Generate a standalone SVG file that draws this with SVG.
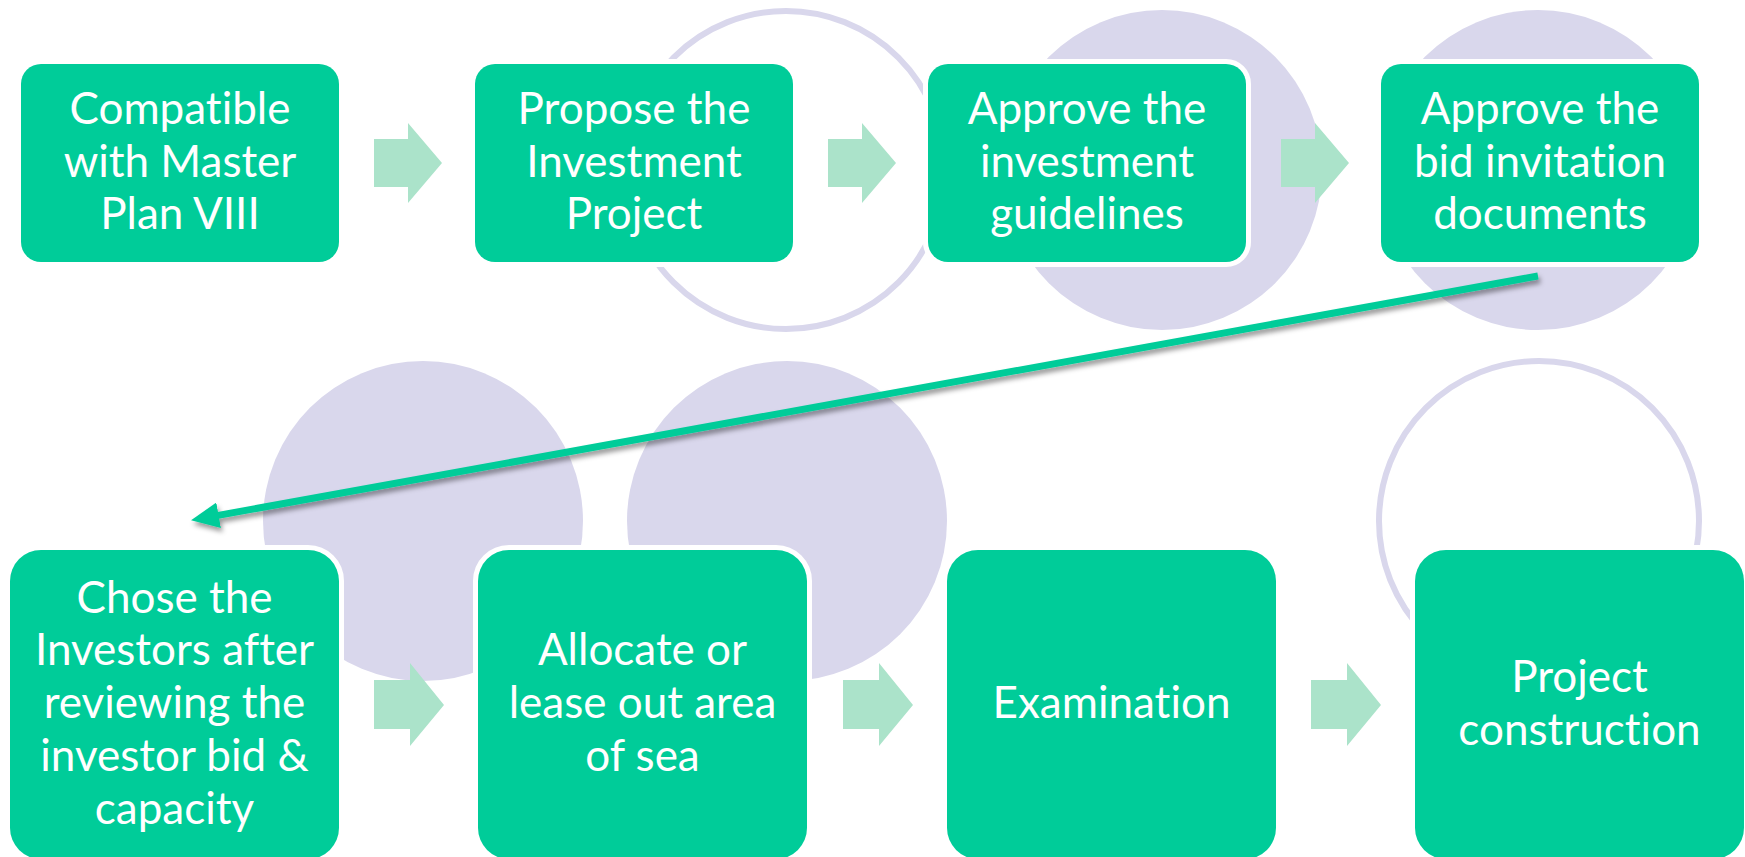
<svg xmlns="http://www.w3.org/2000/svg" width="1745" height="857" viewBox="0 0 1745 857">
  <style>
    .box { fill: #00CC99; stroke: #FFFFFF; stroke-width: 10; paint-order: stroke; }
    .lbl { font-family: Lato, "Open Sans", "Liberation Sans", sans-serif; font-size: 44px; fill: #FFFFFF; text-anchor: middle; font-variant-ligatures: none; font-feature-settings: "liga" 0, "clig" 0; }
    .disc { fill: #D9D7EC; }
    .ring { fill: none; stroke: #D9D7EC; stroke-width: 6; }
    .step { fill: #ABE3CA; }
    .link { fill: none; stroke: #00CC99; stroke-width: 7; }
  </style>
  <defs>
    <!-- small block arrows between the steps -->
    <path id="stepTop" d="M0,16 H34 V0 L68,40 L34,80 V64 H0 Z"/>
    <path id="stepBottom" d="M0,17 H36 V0 L70,42 L36,83 V66 H0 Z"/>
    <marker id="head" markerUnits="userSpaceOnUse" markerWidth="28" markerHeight="26" refX="6" refY="13" orient="auto">
      <path d="M0,0 L28,13 L0,26 Z" fill="#00CC99"/>
    </marker>
    <filter id="shadow" x="-5%" y="-50%" width="110%" height="200%">
      <feDropShadow dx="2" dy="4" stdDeviation="2.5" flood-color="#000000" flood-opacity="0.4"/>
    </filter>
  </defs>

  <rect width="1745" height="857" fill="#FFFFFF"/>

  <!-- background circles -->
  <g id="decor">
    <circle class="ring" cx="786" cy="170" r="159"/>
    <circle class="disc" cx="1162" cy="170" r="160"/>
    <circle class="disc" cx="1538" cy="170" r="160"/>
    <circle class="disc" cx="423" cy="521" r="160"/>
    <circle class="disc" cx="787" cy="521" r="160"/>
    <circle class="ring" cx="1539" cy="521" r="160"/>
  </g>

  <!-- block arrows -->
  <g id="steps">
    <use href="#stepTop" class="step" x="374" y="123"/>
    <use href="#stepTop" class="step" x="828" y="123"/>
    <use href="#stepTop" class="step" x="1281" y="123"/>
    <use href="#stepBottom" class="step" x="374" y="663"/>
    <use href="#stepBottom" class="step" x="843" y="663"/>
    <use href="#stepBottom" class="step" x="1311" y="663"/>
  </g>

  <!-- top row -->
  <g id="node-master-plan">
    <rect class="box" x="21" y="64" width="318" height="198" rx="20"/>
    <text class="lbl"><tspan x="180" y="124">Compatible</tspan><tspan x="180" y="177">with Master</tspan><tspan x="180" y="229">Plan VIII</tspan></text>
  </g>
  <g id="node-propose">
    <rect class="box" x="475" y="64" width="318" height="198" rx="20"/>
    <text class="lbl"><tspan x="634" y="124">Propose the</tspan><tspan x="634" y="177">Investment</tspan><tspan x="634" y="229">Project</tspan></text>
  </g>
  <g id="node-guidelines">
    <rect class="box" x="928" y="64" width="318" height="198" rx="20"/>
    <text class="lbl"><tspan x="1087" y="124">Approve the</tspan><tspan x="1087" y="177">investment</tspan><tspan x="1087" y="229">guidelines</tspan></text>
  </g>
  <g id="node-bid-docs">
    <rect class="box" x="1381" y="64" width="318" height="198" rx="20"/>
    <text class="lbl"><tspan x="1540" y="124">Approve the</tspan><tspan x="1540" y="177">bid invitation</tspan><tspan x="1540" y="229">documents</tspan></text>
  </g>

  <!-- bottom row -->
  <g id="node-investors">
    <rect class="box" x="10" y="550" width="329" height="309" rx="31"/>
    <text class="lbl"><tspan x="174.5" y="612.5">Chose the</tspan><tspan x="174.5" y="665.25">Investors after</tspan><tspan x="174.5" y="718">reviewing the</tspan><tspan x="174.5" y="770.75">investor bid &amp;</tspan><tspan x="174.5" y="823.5">capacity</tspan></text>
  </g>
  <g id="node-allocate">
    <rect class="box" x="478" y="550" width="329" height="309" rx="31"/>
    <text class="lbl"><tspan x="642.5" y="665.25">Allocate or</tspan><tspan x="642.5" y="718">lease out area</tspan><tspan x="642.5" y="770.75">of sea</tspan></text>
  </g>
  <g id="node-examination">
    <rect class="box" x="947" y="550" width="329" height="309" rx="31"/>
    <text class="lbl"><tspan x="1111.5" y="718">Examination</tspan></text>
  </g>
  <g id="node-construction">
    <rect class="box" x="1415" y="550" width="329" height="309" rx="31"/>
    <text class="lbl"><tspan x="1579.5" y="692">Project</tspan><tspan x="1579.5" y="744.5">construction</tspan></text>
  </g>

  <!-- connector from the last top step down to the first bottom step -->
  <g id="connectors">
    <line class="link" x1="1538" y1="276" x2="212.7" y2="516.4" marker-end="url(#head)" filter="url(#shadow)"/>
  </g>
</svg>
